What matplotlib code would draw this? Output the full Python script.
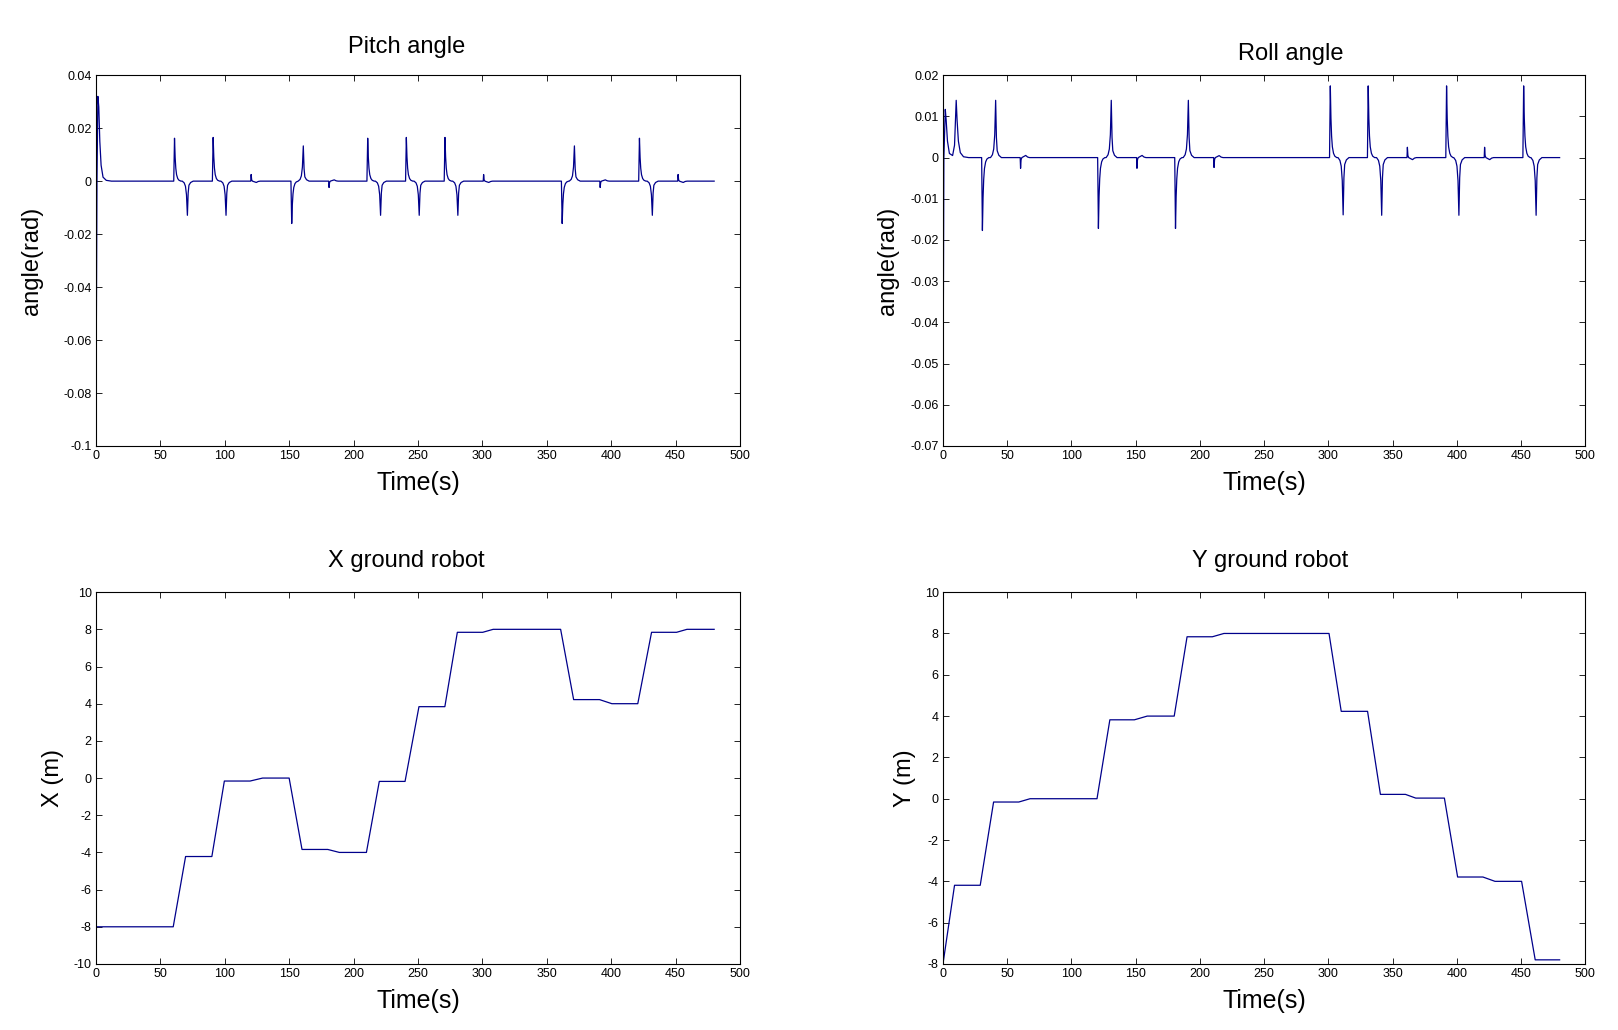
import numpy as np
import matplotlib
matplotlib.use('Agg')
import matplotlib.pyplot as plt
from matplotlib.ticker import FuncFormatter

plt.rcParams['font.family'] = ['Liberation Sans', 'DejaVu Sans']

LINE_COLOR = '#00008b'

# spike shapes (time offset in s, fraction of peak)
sharp_dt = [-0.6, 0.0, 0.5, 1.0, 1.6, 2.5, 3.5, 5.0]
sharp_frac = [0.0, 1.0, 0.55, 0.3, 0.15, 0.06, 0.02, 0.0]
soft_dt = [-4.0, -2.5, -1.5, -0.7, 0.0, 0.6, 1.2, 2.5, 4.5]
soft_frac = [0.0, 0.05, 0.15, 0.4, 1.0, 0.35, 0.12, 0.04, 0.0]
blip_dt = [-0.3, 0.0, 0.4, 1.0, 2.5, 4.0, 5.5, 7.0]
blip_frac = [0.0, 1.0, 0.2, 0.0, -0.1, -0.2, -0.05, 0.0]

# Pitch angle
pitch_t0 = [0, 0.8, 1.5, 2.2, 3, 4, 5.5, 8, 12, 480]
pitch_v0 = [-0.09, 0.0, 0.032, 0.028, 0.015, 0.006, 0.0015, 0.0003, 0.0, 0.0]
pitch_start_t = [61, 91, 152, 211, 241, 271, 362, 422]
pitch_start_amp = [0.0162, 0.0165, -0.016, 0.0162, 0.0165, 0.0165, -0.016, 0.0162]
pitch_end_t = [71, 101, 161, 221, 251, 281, 371.5, 432]
pitch_end_amp = [-0.0129, -0.0129, 0.0133, -0.0129, -0.0129, -0.0129, 0.0133, -0.0129]
pitch_blip_t = [120.5, 181, 301, 391.5, 452]
pitch_blip_amp = [0.0025, -0.0024, 0.0025, -0.0024, 0.0025]

# Roll angle
roll_t0 = [0, 0.7, 1.8, 2.5, 3.5, 5, 7.5, 9, 10.3, 11, 12, 13.5, 16, 20, 480]
roll_v0 = [-0.064, 0.0, 0.0117, 0.009, 0.004, 0.001, 0.0005, 0.003, 0.0139,
           0.009, 0.004, 0.0012, 0.0002, 0.0, 0.0]
roll_start_t = [30.7, 121, 181, 301.5, 331, 392, 452]
roll_start_amp = [-0.0177, -0.0172, -0.0172, 0.0174, 0.0174, 0.0174, 0.0174]
roll_end_t = [41, 131, 191, 311.5, 341.5, 401.6, 461.7]
roll_end_amp = [0.0139, 0.0139, 0.0139, -0.0139, -0.014, -0.014, -0.014]
roll_blip_t = [60.4, 151, 211, 361.5, 421.6]
roll_blip_amp = [-0.0026, -0.0026, -0.0024, 0.0025, 0.0025]

# X ground robot
x_time = [0, 60, 69.6, 90, 99.7, 119.7, 129.4, 150, 160, 180, 189, 210, 220, 240,
          250.8, 270.9, 280.6, 300.3, 308.4, 360.8, 370.9, 391, 400.6, 420.7,
          431.4, 450.8, 458.9, 480]
x_pos = [-8, -8, -4.22, -4.22, -0.16, -0.16, 0, 0, -3.84, -3.84, -4, -4, -0.18,
         -0.18, 3.84, 3.84, 7.84, 7.84, 8, 8, 4.22, 4.22, 4, 4, 7.84, 7.84, 8, 8]

# Y ground robot
y_time = [0, 9, 29, 39.4, 59, 67.8, 119.9, 129.9, 149, 159, 180, 190, 209.7,
          218.7, 300.5, 310, 330.5, 340.5, 360, 368, 390.3, 400.6, 420.3, 429.7,
          450.4, 461, 480]
y_pos = [-8, -4.19, -4.19, -0.16, -0.16, 0, 0, 3.82, 3.82, 4, 4, 7.84, 7.84, 8,
         8, 4.23, 4.23, 0.21, 0.21, 0.03, 0.03, -3.79, -3.79, -4, -4, -7.8, -7.8]


def build_trace(base_t, base_v, events):
    # put each spike shape at its event time and merge with the base points
    t = list(base_t)
    v = list(base_v)
    for times, amps, shape_dt, shape_frac in events:
        for t0, a in zip(times, amps):
            t += [t0 + d for d in shape_dt]
            v += [a * f for f in shape_frac]
    order = np.argsort(t, kind='stable')
    return np.array(t)[order], np.array(v)[order]


pitch_t, pitch_v = build_trace(pitch_t0, pitch_v0, [
    (pitch_start_t, pitch_start_amp, sharp_dt, sharp_frac),
    (pitch_end_t, pitch_end_amp, soft_dt, soft_frac),
    (pitch_blip_t, pitch_blip_amp, blip_dt, blip_frac)])

roll_t, roll_v = build_trace(roll_t0, roll_v0, [
    (roll_start_t, roll_start_amp, sharp_dt, sharp_frac),
    (roll_end_t, roll_end_amp, soft_dt, soft_frac),
    (roll_blip_t, roll_blip_amp, blip_dt, blip_frac)])


def style_axes(ax, ylim, ystep):
    ax.set_xlim(0, 500)
    ax.set_ylim(*ylim)
    ax.set_xticks(np.arange(0, 501, 50))
    ax.set_yticks(np.arange(ylim[0], ylim[1] + ystep / 2, ystep))
    ax.yaxis.set_major_formatter(FuncFormatter(lambda v, p: f"{round(v, 6):g}"))
    ax.tick_params(direction='in', top=True, right=True, length=4.5, width=0.6,
                   labelsize=9, pad=3)
    for s in ax.spines.values():
        s.set_linewidth(0.8)


fig = plt.figure(figsize=(16.18, 10.30), dpi=100)

panels = [
    # rect, t, v, ylim, step, title, ylabel, title_xy, ylabel_x
    ([0.0593, 0.567, 0.398, 0.360], pitch_t, pitch_v, (-0.1, 0.04), 0.02,
     'Pitch angle', 'angle(rad)', (0.482, 1.053), -0.100),
    ([0.5828, 0.567, 0.397, 0.360], roll_t, roll_v, (-0.07, 0.02), 0.01,
     'Roll angle', 'angle(rad)', (0.542, 1.035), -0.085),
    ([0.0593, 0.0641, 0.398, 0.361], np.array(x_time), np.array(x_pos), (-10, 10), 2,
     'X ground robot', 'X (m)', (0.482, 1.062), -0.066),
    ([0.5828, 0.0641, 0.397, 0.361], np.array(y_time), np.array(y_pos), (-8, 10), 2,
     'Y ground robot', 'Y (m)', (0.51, 1.062), -0.059),
]

for rect, t, v, ylim, step, title, ylabel, title_xy, ylabel_x in panels:
    ax = fig.add_axes(rect)
    ax.plot(t, v, color=LINE_COLOR, linewidth=0.9)
    style_axes(ax, ylim, step)
    ttl = ax.set_title(title, fontsize=17, va='center', y=title_xy[1])
    ttl.set_x(title_xy[0])
    ax.set_xlabel('Time(s)', fontsize=18, va='center')
    ax.xaxis.set_label_coords(0.5, -0.10)
    ax.set_ylabel(ylabel, fontsize=17, va='center')
    ax.yaxis.set_label_coords(ylabel_x, 0.5)

fig.savefig('out.png', dpi=100)
